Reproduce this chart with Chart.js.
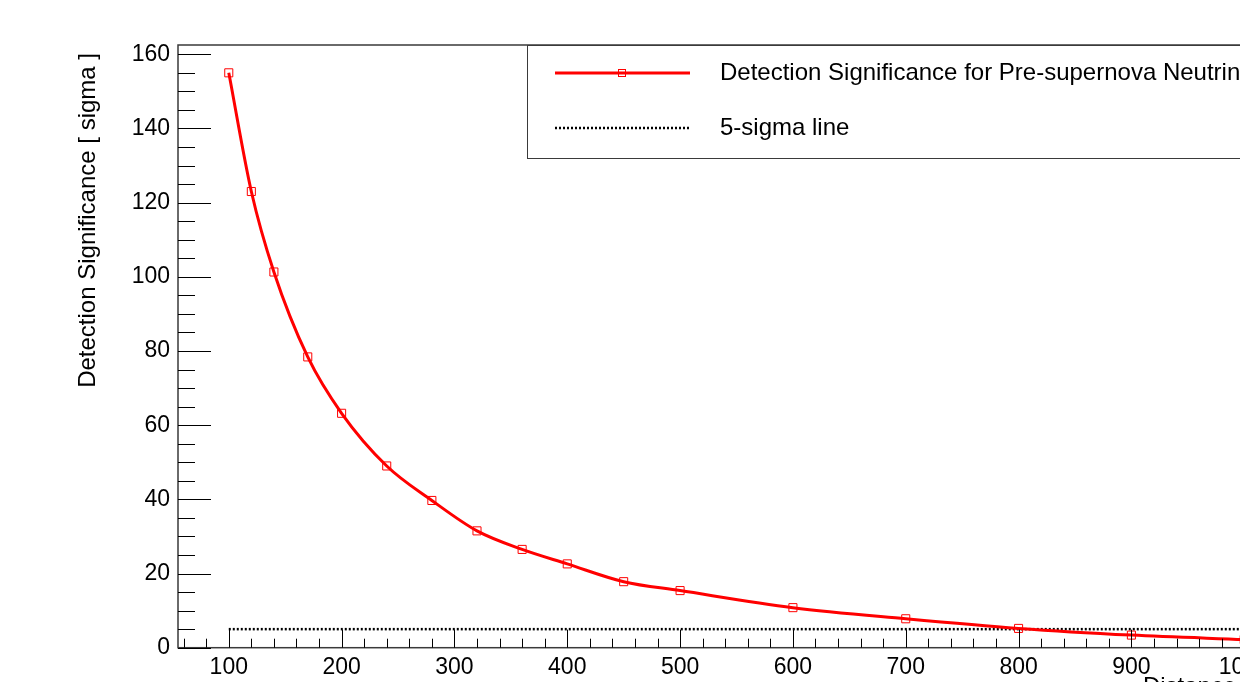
<!DOCTYPE html>
<html>
<head>
<meta charset="utf-8">
<script src="https://cdn.jsdelivr.net/npm/chart.js@4/dist/chart.umd.min.js"></script>
<style>
  html, body { margin: 0; padding: 0; background: #fff; overflow: hidden; }
  #wrap { width: 1240px; height: 682px; overflow: hidden; position: relative; }
  #c { position: absolute; left: 0; top: 0; }
</style>
</head>
<body>
<div id="wrap"><canvas id="c" width="1320" height="700"></canvas></div>
<script>
// Distance to the progenitor star [pc]
const distances = [100, 120, 140, 170, 200, 240, 280, 320, 360, 400, 450, 500, 600, 700, 800, 900, 1000];
// Detection significance [sigma]
const significance = [155.0, 123.0, 101.3, 78.4, 63.2, 49.0, 39.7, 31.5, 26.5, 22.6, 17.8, 15.4, 10.8, 7.8, 5.2, 3.4, 2.2];
// Reference 5-sigma threshold
const thresholdX = [100, 1000];
const thresholdY = [5, 5];

const xTicks = [100, 200, 300, 400, 500, 600, 700, 800, 900, 1000];
const yTicks = [0, 20, 40, 60, 80, 100, 120, 140, 160];
const xMinorStep = 20;
const yMinorStep = 5;

const seriesLabel = 'Detection Significance for Pre-supernova Neutrinos';
const thresholdLabel = '5-sigma line';
const xTitle = 'Distance [ pc ]';
const yTitle = 'Detection Significance [ sigma ]';

const FONT = '"Liberation Sans", Arial, Helvetica, sans-serif';
const AXIS_COLOR = '#3a3a3a';

// Frame, inward tick marks, axis titles and a boxed legend
const rootStyle = {
  id: 'rootStyle',
  afterDatasetsDraw(chart) {
    const ctx = chart.ctx;
    const a = chart.chartArea;
    const xs = chart.scales.x, ys = chart.scales.y;
    ctx.save();

    // frame
    ctx.strokeStyle = AXIS_COLOR;
    ctx.lineWidth = 1.5;
    ctx.strokeRect(a.left, a.top, a.right - a.left, a.bottom - a.top);

    // y ticks (inside the frame)
    ctx.lineWidth = 1;
    ctx.strokeStyle = '#000';
    ctx.beginPath();
    for (let v = ys.min; v <= ys.max + 1e-9; v += yMinorStep) {
      const major = yTicks.includes(Math.round(v));
      const py = Math.round(ys.getPixelForValue(v)) + 0.5;
      ctx.moveTo(a.left, py);
      ctx.lineTo(a.left + (major ? 33 : 17), py);
    }
    ctx.stroke();

    // x ticks (inside the frame)
    ctx.beginPath();
    const x0 = Math.ceil(xs.min / xMinorStep) * xMinorStep;
    for (let v = x0; v <= xs.max + 1e-9; v += xMinorStep) {
      const major = xTicks.includes(Math.round(v));
      const px = Math.round(xs.getPixelForValue(v)) + 0.5;
      ctx.moveTo(px, a.bottom);
      ctx.lineTo(px, a.bottom - (major ? 18 : 9));
    }
    ctx.stroke();

    // axis titles
    ctx.fillStyle = '#000';
    ctx.font = '24px ' + FONT;
    ctx.textAlign = 'right';
    ctx.textBaseline = 'top';
    ctx.fillText(xTitle, a.right, 675);

    ctx.save();
    ctx.translate(88, 53);
    ctx.rotate(-Math.PI / 2);
    ctx.textAlign = 'right';
    ctx.textBaseline = 'middle';
    ctx.fillText(yTitle, 0, 0);
    ctx.restore();

    // legend box
    const lx = 527, ly = a.top, lw = 760, lh = 113;
    ctx.fillStyle = '#fff';
    ctx.fillRect(lx, ly, lw, lh);
    ctx.strokeStyle = AXIS_COLOR;
    ctx.lineWidth = 1;
    ctx.strokeRect(lx + 0.5, ly + 0.5, lw, lh);

    const row1 = 73, row2 = 128;
    ctx.strokeStyle = '#ff0000';
    ctx.lineWidth = 3;
    ctx.setLineDash([]);
    ctx.beginPath();
    ctx.moveTo(555, row1); ctx.lineTo(690, row1);
    ctx.stroke();
    ctx.lineWidth = 1;
    ctx.strokeRect(618.5, row1 - 3.5, 7, 7);

    ctx.strokeStyle = '#000';
    ctx.lineWidth = 2.5;
    ctx.setLineDash([2, 2]);
    ctx.beginPath();
    ctx.moveTo(555, row2); ctx.lineTo(690, row2);
    ctx.stroke();
    ctx.setLineDash([]);

    ctx.fillStyle = '#000';
    ctx.font = '24px ' + FONT;
    ctx.textAlign = 'left';
    ctx.textBaseline = 'middle';
    ctx.fillText(seriesLabel, 720, row1);
    ctx.fillText(thresholdLabel, 720, row2);

    ctx.restore();
  }
};

new Chart(document.getElementById('c'), {
  type: 'line',
  data: {
    datasets: [
      {
        label: thresholdLabel,
        data: thresholdX.map((x, i) => ({ x, y: thresholdY[i] })),
        borderColor: '#000',
        borderWidth: 2.5,
        borderDash: [2, 2],
        pointRadius: 0,
        fill: false,
        order: 2
      },
      {
        label: seriesLabel,
        data: distances.map((x, i) => ({ x, y: significance[i] })),
        borderColor: '#ff0000',
        borderWidth: 3,
        cubicInterpolationMode: 'monotone',
        pointStyle: 'rect',
        pointRadius: 5.7,
        pointBorderWidth: 1,
        pointBorderColor: '#ff0000',
        pointBackgroundColor: 'rgba(0,0,0,0)',
        fill: false,
        order: 1
      }
    ]
  },
  options: {
    responsive: false,
    animation: false,
    devicePixelRatio: 1,
    layout: { padding: { top: 45, right: 25, left: 0, bottom: 0 } },
    plugins: { legend: { display: false }, tooltip: { enabled: false } },
    scales: {
      x: {
        type: 'linear',
        min: 55,
        max: 1045,
        afterBuildTicks: (s) => { s.ticks = xTicks.map(v => ({ value: v })); },
        afterFit: (s) => { s.height = 52.3; },
        grid: { display: false, tickLength: 0 },
        border: { display: false },
        ticks: { color: '#000', font: { size: 23, family: FONT }, padding: 6, maxRotation: 0, autoSkip: false,
                 callback: (v) => String(v) }
      },
      y: {
        type: 'linear',
        min: 0,
        max: 162.5,
        afterBuildTicks: (s) => { s.ticks = yTicks.map(v => ({ value: v })); },
        afterFit: (s) => { s.width = 178; },
        grid: { display: false, tickLength: 0 },
        border: { display: false },
        ticks: { color: '#000', font: { size: 23, family: FONT }, padding: 8, autoSkip: false,
                 callback: (v) => String(v) }
      }
    }
  },
  plugins: [rootStyle]
});
</script>
</body>
</html>
